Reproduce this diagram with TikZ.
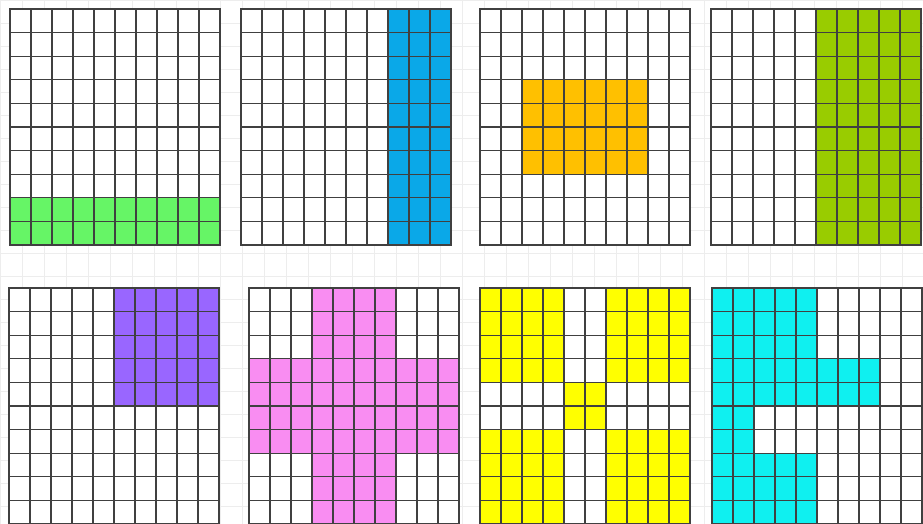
\documentclass[tikz,border=0pt]{standalone}
\usepackage{xcolor}
\definecolor{cgreen}{HTML}{66F566}
\definecolor{cblue}{HTML}{0AA8E8}
\definecolor{corange}{HTML}{FFC000}
\definecolor{colive}{HTML}{99CC00}
\definecolor{cpurple}{HTML}{9966FF}
\definecolor{cpink}{HTML}{F98DF2}
\definecolor{cyellow}{HTML}{FFFF00}
\definecolor{ccyan}{HTML}{0FF0F0}
\tikzset{
  gridln/.style={draw=black!75, line width=1.3pt, line cap=rect},
  paperln/.style={draw=black!7, line width=0.6pt}
}
\newcommand\cellgrid[4]{% x0, y0, colour, list of c1/r1/c2/r2
  \begin{scope}[shift={(#1,#2)}]
    \fill[white] (0,0) rectangle (210,236);
    \foreach \a/\b/\c/\d in {#4} {
      \fill[#3] (\a*21,\b*23.6) rectangle (\c*21,\d*23.6);
    }
    \foreach \i in {0,...,10} {
      \draw[gridln] (\i*21,0) -- (\i*21,236);
      \draw[gridln] (0,\i*23.6) -- (210,\i*23.6);
    }
  \end{scope}}
\begin{document}
\begin{tikzpicture}[x=1pt,y=-1pt]
  \useasboundingbox (0,0) rectangle (923,524);
  \fill[white] (0,0) rectangle (923,524);
  \foreach \i in {0,...,42} { \draw[paperln] (\i*22,0) -- (\i*22,524); }
  \foreach \j in {0,...,23} { \draw[paperln] (0,\j*23) -- (923,\j*23); }
  % top row
  \cellgrid{10}{9}{cgreen}{0/8/10/10}
  \cellgrid{241}{9}{cblue}{7/0/10/10}
  \cellgrid{480}{9}{corange}{2/3/8/7}
  \cellgrid{711}{9}{colive}{5/0/10/10}
  % bottom row
  \cellgrid{9}{288}{cpurple}{5/0/10/5}
  \cellgrid{249}{288}{cpink}{3/0/7/10, 0/3/10/7}
  \cellgrid{480}{288}{cyellow}{0/0/4/4, 6/0/10/4, 0/6/4/10, 6/6/10/10, 4/4/6/6}
  \cellgrid{712}{288}{ccyan}{0/0/5/3, 0/3/8/5, 0/5/2/7, 0/7/5/10}
\end{tikzpicture}
\end{document}
